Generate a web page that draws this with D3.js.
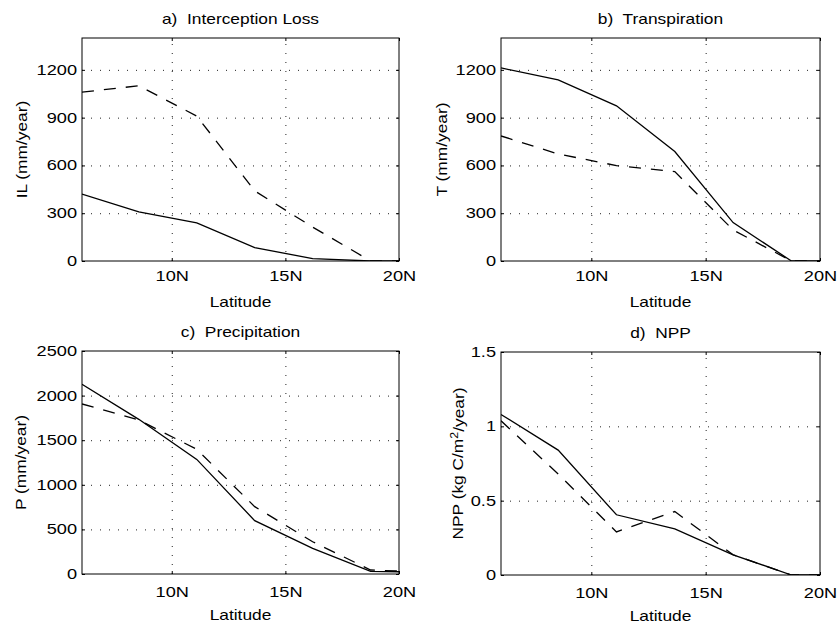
<!DOCTYPE html>
<html>
<head>
<meta charset="utf-8">
<script src="https://cdn.jsdelivr.net/npm/d3@7"></script>
<style>
  body { margin: 0; background: #fff; }
  text { font-family: "Liberation Sans", Arial, Helvetica, sans-serif; }
</style>
</head>
<body>
<svg id="fig" width="838" height="624"></svg>
<script>
"use strict";

// values (model grid latitudes, degrees N)
const latitude = [6.05, 8.55, 11.1, 13.65, 16.2, 18.75, 21.3];

const ilSolid  = [420, 308, 239, 84, 15, 0, 0];
const ilDashed = [1060, 1100, 910, 440, 213, 0, 0];
const trSolid  = [1212, 1137, 974, 687, 241, 0, 0];
const trDashed = [785, 672, 599, 561, 195, 0, 0];
const prSolid  = [2126, 1734, 1285, 598, 288, 30, 20];
const prDashed = [1906, 1726, 1398, 755, 362, 45, 20];
const nppSolid  = [1.08, 0.84, 0.405, 0.31, 0.136, 0, 0];
const nppDashed = [1.037, 0.68, 0.29, 0.427, 0.136, 0, 0];

const xTicks = [10, 15, 20];
const xTickLabels = ["10N", "15N", "20N"];
const mmTicks = [0, 300, 600, 900, 1200];
const prTicks = [0, 500, 1000, 1500, 2000, 2500];
const nppTicks = [0, 0.5, 1, 1.5];

const xDomain = [6.05, 20];

// layout of the four subplots
const panels = [
  {title: "a)  Interception Loss", ylab: "IL (mm/year)", solid: ilSolid, dashed: ilDashed,
   ticks: mmTicks, yMax: 1400, box: [82, 38, 399, 261], ylabOff: 55.5, xPad: 10.5, xlabOff: 45.5},
  {title: "b)  Transpiration", ylab: "T (mm/year)", solid: trSolid, dashed: trDashed,
   ticks: mmTicks, yMax: 1400, box: [501, 38, 820, 261], ylabOff: 54.5, xPad: 10.5, xlabOff: 45.5},
  {title: "c)  Precipitation", ylab: "P (mm/year)", solid: prSolid, dashed: prDashed,
   ticks: prTicks, yMax: 2500, box: [82, 351, 399, 574], ylabOff: 56, xPad: 13, xlabOff: 46},
  {title: "d)  NPP", ylab: null, solid: nppSolid, dashed: nppDashed,
   ticks: nppTicks, yMax: 1.5, box: [501, 352, 820, 575], ylabOff: 38.5, xPad: 13, xlabOff: 46}
];

const FS = 14;      // font size
const TS = 1.3;     // horizontal stretch of tick labels (scanned figure)
const LS = 1.24;    // horizontal stretch of titles / labels

const svg = d3.select("#fig");
svg.append("rect").attr("width", 838).attr("height", 624).attr("fill", "#fff");

function stretchedText(g, x, y, str, sx, rot) {
  return g.append("text")
    .attr("transform", `translate(${x},${y})` + (rot ? ` rotate(${rot})` : "") + ` scale(${sx},1)`)
    .attr("text-anchor", "middle")
    .attr("font-size", FS)
    .attr("fill", "#000")
    .style("white-space", "pre")
    .text(str);
}

function drawPanel(p, idx) {
  const [l, t, r, b] = p.box;
  const w = r - l, h = b - t;
  const g = svg.append("g").attr("transform", `translate(${l},${t})`);

  const x = d3.scaleLinear().domain(xDomain).range([0, w]);
  const y = d3.scaleLinear().domain([0, p.yMax]).range([h, 0]);

  // dotted grid
  const gx = g.append("g").attr("transform", `translate(0,${h})`)
    .call(d3.axisBottom(x).tickValues(xTicks.filter(v => v < xDomain[1])).tickSize(-h).tickFormat(""));
  const gy = g.append("g")
    .call(d3.axisLeft(y).tickValues(p.ticks.filter(v => v > 0 && v < p.yMax)).tickSize(-w).tickFormat(""));
  [gx, gy].forEach(s => {
    s.select(".domain").remove();
    s.selectAll("line").attr("stroke", "#222").attr("stroke-width", 1).attr("stroke-dasharray", "1,8");
  });

  // data lines
  const clipId = "clip" + idx;
  g.append("clipPath").attr("id", clipId).append("rect").attr("width", w).attr("height", h);
  const line = d3.line().x(d => x(d[0])).y(d => y(d[1]));
  g.append("path").datum(d3.zip(latitude, p.solid))
    .attr("clip-path", `url(#${clipId})`)
    .attr("fill", "none").attr("stroke", "#000").attr("stroke-width", 1.3)
    .attr("d", line);
  g.append("path").datum(d3.zip(latitude, p.dashed))
    .attr("clip-path", `url(#${clipId})`)
    .attr("fill", "none").attr("stroke", "#000").attr("stroke-width", 1.3)
    .attr("stroke-dasharray", "12,10")
    .attr("d", line);

  // axes, ticks pointing inward
  const fmt = d3.format("");
  const yAxis = g.append("g")
    .call(d3.axisLeft(y).tickValues(p.ticks).tickFormat(fmt).tickSizeInner(-3).tickSizeOuter(0).tickPadding(5));
  yAxis.selectAll("text").attr("x", -5 / TS).attr("transform", `scale(${TS},1)`);

  const xAxis = g.append("g").attr("transform", `translate(0,${h})`)
    .call(d3.axisBottom(x).tickValues(xTicks).tickFormat((d, i) => xTickLabels[i])
      .tickSizeInner(-3).tickSizeOuter(0).tickPadding(p.xPad));
  xAxis.selectAll("text").attr("transform", `scale(${TS},1)`);

  const rAxis = g.append("g").attr("transform", `translate(${w},0)`)
    .call(d3.axisRight(y).tickValues(p.ticks).tickFormat("").tickSizeInner(-3).tickSizeOuter(0));
  const tAxis = g.append("g")
    .call(d3.axisTop(x).tickValues(xTicks).tickFormat("").tickSizeInner(-3).tickSizeOuter(0));

  [yAxis, xAxis, rAxis, tAxis].forEach(s => {
    s.attr("font-size", FS).attr("font-family", null);
    s.select(".domain").remove();
    s.selectAll("line").attr("stroke", "#000");
    s.selectAll("text").attr("fill", "#000");
  });

  // box
  g.append("rect").attr("width", w).attr("height", h)
    .attr("fill", "none").attr("stroke", "#000").attr("stroke-width", 1);

  // texts
  stretchedText(g, w / 2, -14.3, p.title, LS);
  stretchedText(g, w / 2, h + p.xlabOff, "Latitude", LS);
  if (p.ylab) {
    stretchedText(g, -p.ylabOff, h / 2, p.ylab, LS, -90);
  } else {
    const yl = stretchedText(g, -p.ylabOff, h / 2, "", LS, -90);
    yl.append("tspan").text("NPP (kg C/m");
    yl.append("tspan").attr("dy", "-0.45em").attr("font-size", 10).text("2");
    yl.append("tspan").attr("dy", "0.45em").text("/year)");
  }
}

panels.forEach(drawPanel);
</script>
</body>
</html>
